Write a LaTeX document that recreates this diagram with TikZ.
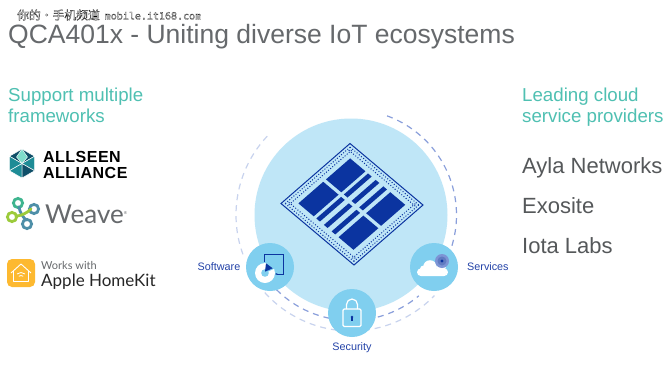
\documentclass[tikz,border=0pt]{standalone}
\usepackage{fontspec}
\setmainfont{Liberation Sans}
\newfontfamily\cjkmark[FakeBold=1.8]{Noto Sans CJK SC}
\newfontfamily\monomark[FakeBold=1.8]{DejaVu Sans Mono}
\newfontfamily\latofont{Lato}
\newfontfamily\logofont[LetterSpace=3]{Liberation Sans}
\usetikzlibrary{arrows.meta}
\definecolor{titlegray}{HTML}{66696C}
\definecolor{teal}{HTML}{4FC0B2}
\definecolor{bodygray}{HTML}{55585A}
\definecolor{chipblue}{HTML}{0B34A0}
\definecolor{disc}{HTML}{BFE6F7}
\definecolor{badge}{HTML}{80CFEF}
\definecolor{dashdark}{HTML}{8A9FDB}
\definecolor{dashlight}{HTML}{C8D3EE}
\definecolor{labelblue}{HTML}{2443A8}
\definecolor{hexdark}{HTML}{0F4F68}
\definecolor{hexmid}{HTML}{1E8C96}
\definecolor{hexlight}{HTML}{7FDCCB}
\definecolor{homeyellow}{HTML}{FDB930}
\definecolor{weavegreen}{HTML}{9CCB3B}
\definecolor{weaveblue}{HTML}{4E8FA8}
\definecolor{weaveteal}{HTML}{3FB58F}
\tikzset{
  lefttext/.style={anchor=base west,inner sep=0pt},
  heading/.style={lefttext,text=teal,font=\fontsize{18.7}{19}\selectfont},
  provider/.style={lefttext,text=bodygray,font=\fontsize{22}{22}\selectfont},
  badgedisc/.style={fill=badge,draw=none},
  caption/.style={text=labelblue,inner sep=0pt,font=\fontsize{10.8}{11}\selectfont},
  orbitdark/.style={draw=dashdark,line width=1.2pt,dash pattern=on 6pt off 5pt},
  orbitlight/.style={draw=dashlight,line width=1.2pt,dash pattern=on 6pt off 5pt},
  weaveloop/.style={line width=2.8pt,line cap=round}
}
\begin{document}
\begin{tikzpicture}[x=1pt,y=-1pt]
\useasboundingbox[fill=white] (0,0) rectangle (670,381);

% heading block
\node[lefttext,text=titlegray,font=\fontsize{26.5}{27}\selectfont] (title) at (8,43.5) {QCA401x - Uniting diverse IoT ecosystems};
\node[lefttext] (mark) at (17,19.5) {\special{pdf:code 0 0 0 RG 1 1 1 rg}{\cjkmark\fontsize{11.8}{12}\selectfont 你的·手机频道}\hspace{5pt}{\monomark\fontsize{10}{10}\selectfont mobile.it168.com}\special{pdf:code 0 0 0 RG 0 0 0 rg}};

\node[heading] (supportA) at (8,101) {Support multiple};
\node[heading] (supportB) at (8,122) {frameworks};
\node[heading] (cloudA) at (522,101) {Leading cloud};
\node[heading] (cloudB) at (522,122) {service providers};
\node[provider] (ayla) at (522,173) {Ayla Networks};
\node[provider] (exosite) at (522,213.5) {Exosite};
\node[provider] (iota) at (522,253.5) {Iota Labs};

% AllSeen hexagon mark
\begin{scope}[shift={(22,163.5)}]
  \foreach \a/\b/\c in {-150/-90/hexdark,-90/-30/hexdark,150/210/hexmid,-30/30/hexmid,90/150/hexmid,30/90/hexdark}{
    \fill[\c,draw=white,line width=0.5pt] (0,0) -- (\a:14.5) -- (\b:14.5) -- cycle;
  }
  \fill[hexlight,draw=white,line width=0.4pt] (0,0) -- (-130:8.5) -- (-90:14.5) -- (-50:8.5) -- cycle;
\end{scope}
\node[lefttext,font=\logofont\bfseries\fontsize{16}{16}\selectfont] (allseen) at (43,162) {ALLSEEN};
\node[lefttext,font=\logofont\bfseries\fontsize{16}{16}\selectfont] (alliance) at (43,178) {ALLIANCE};

% Weave interlocked loops
\draw[weaveloop,weaveteal] (18,203) circle[radius=4.6];
\draw[weaveloop,weavegreen] (12,217) circle[radius=4.6];
\draw[weaveloop,weaveblue] (34,209) circle[radius=4.6];
\draw[weaveloop,weaveblue] (27,224) circle[radius=4.6];
\draw[weaveloop,weaveblue] (19,207) .. controls (20,213) and (23,217) .. (26,220);
\draw[weaveloop,weavegreen] (16,216) .. controls (21,216) and (27,213) .. (31,209);
\node[lefttext,text=titlegray,font=\latofont\fontsize{26}{26}\selectfont] (weave) at (45,223.5) {Weave\raisebox{9pt}{\fontsize{4}{4}\selectfont ®}};

% HomeKit badge
\fill[homeyellow,rounded corners=5pt] (7,259) rectangle (35,287);
\draw[white,line width=0.9pt,line join=round] (11,273) -- (21,264) -- (31,273) (13.5,271) -- (13.5,281.5) -- (28.5,281.5) -- (28.5,271);
\draw[white,line width=0.8pt] (17,274) .. controls (19.5,272) and (22.5,272) .. (25,274);
\draw[white,line width=0.8pt] (18.8,276.3) .. controls (20.2,275.3) and (21.8,275.3) .. (23.2,276.3);
\node[lefttext,text=titlegray,font=\latofont\fontsize{11}{11}\selectfont] (works) at (41,269) {Works with};
\node[lefttext,text=black!85,font=\latofont\fontsize{17}{17}\selectfont] (homekit) at (41,286) {Apple HomeKit};

% orbit rings around the chip disc
\draw[orbitlight] (351,215) ++(160:115) arc[start angle=160,end angle=225,radius=115];
\draw[orbitlight] (351,215) ++(138:116) arc[start angle=138,end angle=44,radius=116];
\fill[disc] (351,215) circle[radius=96.5];
\draw[orbitdark] (351,215) ++(-70:105.5) arc[start angle=-70,end angle=24,radius=105.5];
\draw[orbitdark] (351,215) ++(135:105.5) arc[start angle=135,end angle=50,radius=105.5];

% chip package, in unit coordinates along its two edges
\begin{scope}[shift={(350,143.5)},x={(73pt,-61.5pt)},y={(-69pt,-60pt)}]
  \draw[chipblue,line width=1pt] (0,0) -- (1,0) -- (1,1) -- (0,1) -- cycle;
  \foreach \i in {0,...,31}{
    \pgfmathsetmacro{\t}{0.035+\i*0.03}
    \pgfmathsetmacro{\s}{0.05+\i*0.03}
    \foreach \e in {0.03,0.97}{
      \fill[chipblue] (\t,\e) circle[radius=0.7pt];
      \fill[chipblue] (\e,\t) circle[radius=0.7pt];
    }
    \ifnum\i<31
    \foreach \e in {0.065,0.935}{
      \fill[chipblue] (\s,\e) circle[radius=0.7pt];
      \fill[chipblue] (\e,\s) circle[radius=0.7pt];
    }
    \fi
  }
  \foreach \ua/\ub in {0.12/0.33,0.67/0.875,0.365/0.415,0.47/0.52,0.575/0.625}{
    \fill[chipblue] (\ua,0.125) -- (\ub,0.125) -- (\ub,0.475) -- (\ua,0.475) -- cycle;
    \fill[chipblue] (\ua,0.515) -- (\ub,0.515) -- (\ub,0.875) -- (\ua,0.875) -- cycle;
  }
\end{scope}

% software badge
\node[badgedisc,circle,minimum size=48pt,inner sep=0pt] (softwarebadge) at (270,267) {};
\draw[chipblue,line width=0.9pt,-{Stealth[length=2.5pt]}] (264,262) -- (264,254.5) -- (283,254.5) -- (283,274) -- (275,274);
\fill[white] (265,273) circle[radius=10];
\fill[badge] (265,273) circle[radius=3.8];
\fill[badge] (265,273) -- ++(-80:11.4) arc[start angle=-80,end angle=-25,radius=11.4] -- cycle;
\fill[chipblue] (266,263.3) -- (272.7,268.3) -- (265,271.7) -- cycle;
\node[caption,anchor=east] (software) at (240.5,267) {Software};

% security badge
\node[badgedisc,circle,minimum size=48pt,inner sep=0pt] (securitybadge) at (352,313) {};
\draw[white,line width=1.2pt,rounded corners=1.2pt] (343,309) rectangle (361,326.5);
\draw[white,line width=1.2pt] (346.5,309) -- (346.5,304.5) arc[start angle=180,end angle=360,radius=5.5] -- (357.5,309);
\fill[chipblue] (352,317) circle[radius=1.4];
\fill[chipblue] (351.3,317) rectangle (352.7,320.5);
\node[caption] (security) at (352,348) {Security};

% services badge
\node[badgedisc,circle,minimum size=48pt,inner sep=0pt] (servicesbadge) at (434,267) {};
\fill[white,rounded corners=3.8pt] (417,268.4) rectangle (448,276);
\fill[white] (430,267) circle[radius=6.8];
\fill[white] (423.5,269) circle[radius=3.5];
\fill[white] (441,267.5) circle[radius=4.8];
\fill[dashdark!90!chipblue] (442,261) circle[radius=7];
\fill[chipblue!65!white] (442,261) circle[radius=4.5];
\fill[chipblue] (442,261) circle[radius=1.6];
\node[caption,anchor=west] (services) at (467,267) {Services};
\end{tikzpicture}
\end{document}
